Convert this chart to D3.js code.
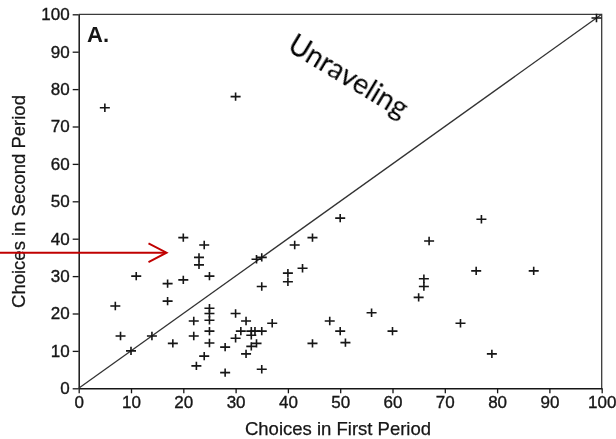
<!DOCTYPE html>
<html>
<head>
<meta charset="utf-8">
<script src="https://cdn.jsdelivr.net/npm/d3@7"></script>
<style>
  html, body { margin: 0; padding: 0; background: #fff; }
  svg { display: block; }
</style>
</head>
<body>
<script>
// Choices made by each subject in the first and the second period
const firstPeriod = [
  5, 30, 99,
  7, 8, 10, 11, 14, 17, 17, 18, 20, 20,
  22, 22, 22.5, 24, 23, 23, 24,
  25, 25, 25, 25, 25, 25,
  28, 28, 30, 30, 32, 31, 33, 33.7, 35, 33, 32, 33, 34, 35, 35,
  34, 35, 37, 40, 40, 41.3, 42.8, 44.7, 44.7,
  50, 48, 50, 51, 56, 60, 65, 66, 66, 67, 73, 76, 77, 79, 87
];
const secondPeriod = [
  75, 78, 99,
  22, 14, 10, 30, 14, 28, 23.3, 12, 40.3, 29,
  18, 14, 6, 38.3, 35, 33, 8.6,
  30, 21.4, 20, 18.2, 15.3, 12.1,
  11, 4.2, 20, 13.4, 18, 15.3, 15.3, 15.3, 15.3, 14.2, 9.2, 11.2, 12, 5.1, 27.2,
  34.5, 35, 17.4, 30.8, 28.5, 38.3, 32.1, 40.3, 12,
  45.5, 18, 15.3, 12.2, 20.2, 15.3, 24.3, 29.3, 27.2, 39.4, 17.4, 31.4, 45.2, 9.2, 31.4
];
const xTickValues = [0, 10, 20, 30, 40, 50, 60, 70, 80, 90, 100];
const yTickValues = [0, 10, 20, 30, 40, 50, 60, 70, 80, 90, 100];
const xTitle = "Choices in First Period";
const yTitle = "Choices in Second Period";
const panelLabel = "A.";
const noteText = "Unraveling";

const W = 616, H = 439;
const plotLeft = 78.7, plotRight = 601.7, plotTop = 14.3, plotBottom = 388.3;
const ink = "#151515";
const font = "'Liberation Sans', Arial, Helvetica, sans-serif";

const svg = d3.select("body").append("svg")
  .attr("width", W).attr("height", H)
  .attr("viewBox", `0 0 ${W} ${H}`);

// the printed figure has a slightly soft, scanned look
svg.append("defs").append("filter")
  .attr("id", "soft")
  .append("feGaussianBlur").attr("stdDeviation", 0.45);

const chart = svg.append("g").attr("filter", "url(#soft)");

const x = d3.scaleLinear().domain([0, 100]).range([plotLeft, plotRight]);
const y = d3.scaleLinear().domain([0, 100]).range([plotBottom, plotTop]);

// frame: top and right edges
chart.append("path")
  .attr("d", `M${plotLeft},${plotTop}H${plotRight}V${plotBottom}`)
  .attr("fill", "none").attr("stroke", "#3a3a3a").attr("stroke-width", 1.3);

// axes
const xAxis = chart.append("g")
  .attr("transform", `translate(0,${plotBottom})`)
  .call(d3.axisBottom(x).tickValues(xTickValues).tickSize(5).tickPadding(3).tickSizeOuter(0));
const yAxis = chart.append("g")
  .attr("transform", `translate(${plotLeft},0)`)
  .call(d3.axisLeft(y).tickValues(yTickValues).tickSize(6).tickPadding(3).tickSizeOuter(0));

[xAxis, yAxis].forEach(g => {
  g.select(".domain").attr("stroke", ink).attr("stroke-width", 1.5);
  g.selectAll(".tick line").attr("stroke", ink).attr("stroke-width", 1.3);
  g.selectAll(".tick text")
    .attr("fill", ink)
    .attr("stroke", ink).attr("stroke-width", 0.35)
    .style("font-family", font)
    .style("font-size", "17px");
});

// 45-degree reference line
chart.append("line")
  .attr("x1", x(0)).attr("y1", y(0))
  .attr("x2", x(100)).attr("y2", y(100))
  .attr("stroke", "#333").attr("stroke-width", 1.3);

// data markers drawn as plus signs
const pts = firstPeriod.map((v, i) => [v, secondPeriod[i]]);
chart.append("g").selectAll("path")
  .data(pts)
  .join("path")
  .attr("d", d => {
    const cx = x(d[0]), cy = y(d[1]);
    return `M${cx - 5},${cy}H${cx + 5}M${cx},${cy - 4.2}V${cy + 4.2}`;
  })
  .attr("fill", "none").attr("stroke", ink).attr("stroke-width", 1.6);

// axis titles
chart.append("text")
  .attr("x", 338).attr("y", 435)
  .attr("text-anchor", "middle")
  .attr("fill", ink).attr("stroke", ink).attr("stroke-width", 0.25)
  .style("font-family", font).style("font-size", "18.5px")
  .text(xTitle);

chart.append("text")
  .attr("transform", "translate(24.5,201.5) rotate(-90)")
  .attr("text-anchor", "middle")
  .attr("fill", ink).attr("stroke", ink).attr("stroke-width", 0.25)
  .style("font-family", font).style("font-size", "18.5px")
  .text(yTitle);

// panel label
chart.append("text")
  .attr("x", 87).attr("y", 41.5)
  .attr("fill", ink)
  .style("font-family", font).style("font-size", "22px").style("font-weight", "bold")
  .text(panelLabel);

// annotation above the diagonal
svg.append("text")
  .attr("transform", "translate(286,50) rotate(31)")
  .attr("fill", "#000")
  .style("font-family", "Lato, 'Open Sans', sans-serif").style("font-size", "28.5px")
  .text(noteText);

// red pointer arrow
const arrowY = 252.7;
svg.append("line")
  .attr("x1", 0).attr("y1", arrowY)
  .attr("x2", 166).attr("y2", arrowY)
  .attr("stroke", "#c00000").attr("stroke-width", 2);
svg.append("path")
  .attr("d", `M148.5,${arrowY - 9.3}L166.5,${arrowY}L148.5,${arrowY + 9.5}`)
  .attr("fill", "none").attr("stroke", "#c00000").attr("stroke-width", 2);
</script>
</body>
</html>
